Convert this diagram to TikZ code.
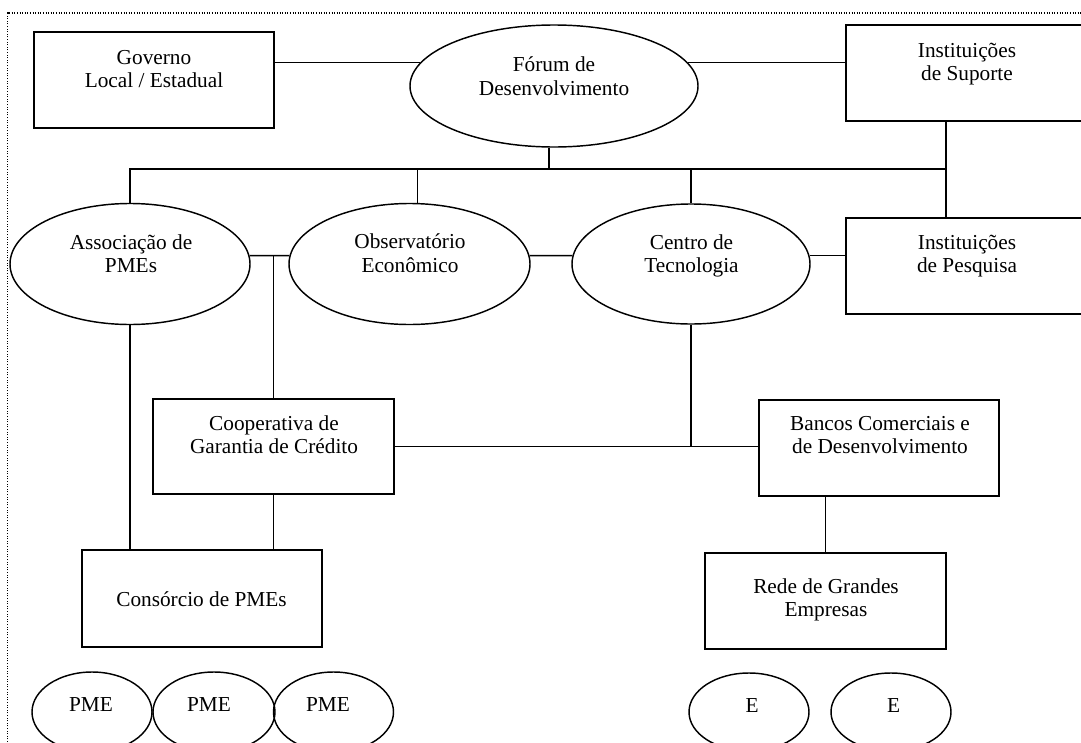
\documentclass[tikz,border=0pt]{standalone}
\usepackage{fontspec}
\setmainfont{Liberation Serif}
\usetikzlibrary{shapes.geometric}
% centred block of lines whose reference point is the first baseline
\newcommand{\mlines}[1]{\begin{tabular}[t]{@{}c@{}}#1\end{tabular}}
\begin{document}
\begin{tikzpicture}[x=1pt,y=-1pt,
  box/.style={draw, rectangle, line width=1.45pt, inner sep=0pt,
              minimum width=240pt, minimum height=96pt},
  oval/.style 2 args={draw, ellipse, line width=1.45pt, inner sep=0pt,
              minimum width=#1, minimum height=#2},
  txt/.style={anchor=base, inner sep=0pt,
              font=\fontsize{21.3pt}{23.5pt}\selectfont},
  link/.style={draw, line width=1.45pt},
  frame/.style={line width=1.2pt, dash pattern=on 1.1pt off 1.5pt, black}]

\clip (0,0) rectangle (1081,742);

% page frame (top and left edges)
\coordinate (fBL) at (7.5,742);
\coordinate (fTL) at (7.5,13);
\coordinate (fTR) at (1081,13);
\draw[frame] (fBL) -- (fTL) -- (fTR);

% rectangular actors
\node[box] (gov)    at (154,80)    {};
\node[box] (sup)    at (966,73)    {};
\node[box] (pesq)   at (966,266)   {};
\node[box, minimum width=241pt, minimum height=95pt] (coop) at (273.5,446.5) {};
\node[box] (bancos) at (879,448)   {};
\node[box, minimum height=97pt] (cons) at (202,598.5) {};
\node[box, minimum width=241pt] (rede) at (825.5,601) {};

% elliptical actors
\node[oval={288pt}{122pt}] (forum)  at (554,86)  {};
\node[oval={240pt}{121pt}] (assoc)  at (130,264) {};
\node[oval={241pt}{121pt}] (obs)    at (409.5,264) {};
\node[oval={238pt}{120pt}] (centro) at (691,264) {};

% firms at the bottom
\node[oval={120pt}{80pt}] (pme1) at (92,712)  {};
\node[oval={122pt}{80pt}] (pme2) at (214,712) {};
\node[oval={120pt}{80pt}] (pme3) at (333.5,712) {};
\node[oval={120pt}{78pt}] (e1)   at (749,712) {};
\node[oval={120pt}{78pt}] (e2)   at (891,712) {};

% labels
\node[txt] (gov-t)    at (154,64)   {\mlines{Governo\\Local / Estadual}};
\node[txt] (forum-t)  at (554,71.5) {\mlines{Fórum de\\Desenvolvimento}};
\node[txt] (sup-t)    at (967,57)   {\mlines{Instituições\\de Suporte}};
\node[txt] (assoc-t)  at (131,249)  {\mlines{Associação de\\PMEs}};
\node[txt] (obs-t)    at (410,248.5){\mlines{Observatório\\Econômico}};
\node[txt] (centro-t) at (691.5,249){\mlines{Centro de\\Tecnologia}};
\node[txt] (pesq-t)   at (967,249)  {\mlines{Instituições\\de Pesquisa}};
\node[txt] (coop-t)   at (274,430)  {\mlines{Cooperativa de\\Garantia de Crédito}};
\node[txt] (bancos-t) at (880,430)  {\mlines{Bancos Comerciais e\\de Desenvolvimento}};
\node[txt] (cons-t)   at (201.5,606){Consórcio de PMEs};
\node[txt] (rede-t)   at (826,593)  {\mlines{Rede de Grandes\\Empresas}};
\node[txt] (pme1-t)   at (91,711)   {PME};
\node[txt] (pme2-t)   at (209,711)  {PME};
\node[txt] (pme3-t)   at (328,711)  {PME};
\node[txt] (e1-t)     at (752,712)  {E};
\node[txt] (e2-t)     at (893.5,712){E};

% connectors
\coordinate (bus)  at (0,169);
\coordinate (supx) at ([xshift=-20pt]sup.south);
\coordinate (pesqx) at ([xshift=-20pt]pesq.north);
\coordinate (forumx) at ([xshift=-5pt]forum.south);
\coordinate (obsx) at ([xshift=8pt]obs.north);

\draw[link] (gov.east |- forum.170) -- (forum.170);
\draw[link] (forum.10) -- (sup.west |- forum.10);
\draw[link] (supx) -- (pesqx);
\draw[link] (forumx) -- (forumx |- bus);
\draw[link] (assoc.north) -- (assoc.north |- bus) -- (supx |- bus);
\draw[link] (obsx) -- (obsx |- bus);
\draw[link] (centro.north) -- (centro.north |- bus);

\draw[link] (assoc.4) -- (obs.176);
\draw[link] (obs.4) -- (centro.176);
\draw[link] (centro.4) -- (pesq.west |- centro.4);

\draw[link] (coop.north) -- (coop.north |- assoc.4);
\draw[link] (assoc.south) -- (assoc.south |- cons.north);
\draw[link] (coop.south) -- (coop.south |- cons.north);
\draw[link] (coop.east) -- (coop.east -| bancos.west);
\draw[link] (centro.south) -- (centro.south |- coop.east);
\draw[link] (rede.north) -- (rede.north |- bancos.south);
\end{tikzpicture}
\end{document}
